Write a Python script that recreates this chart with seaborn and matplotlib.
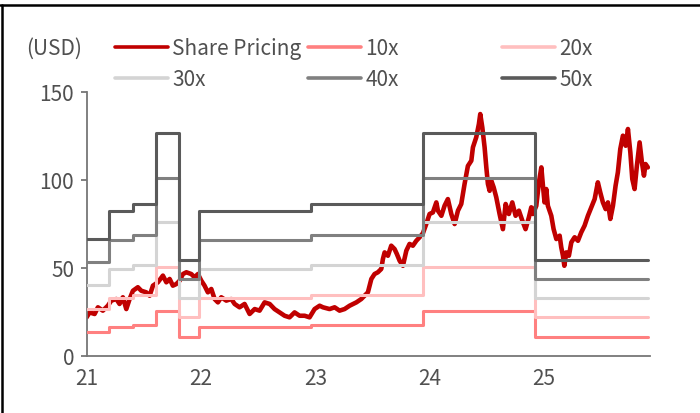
import matplotlib
matplotlib.use("Agg")
import matplotlib.pyplot as plt
from matplotlib.lines import Line2D
import pandas as pd
import seaborn as sns

# Share price (USD); time as years elapsed since the start of 2021
price_t = [
    0.000, 0.026, 0.070, 0.099, 0.142, 0.186, 0.216, 0.260, 0.288, 0.317,
    0.347, 0.376, 0.405, 0.448, 0.478, 0.522, 0.551, 0.580, 0.623, 0.667,
    0.697, 0.726, 0.754, 0.784, 0.813, 0.842, 0.872, 0.915, 0.944, 0.973,
    1.003, 1.031, 1.060, 1.090, 1.119, 1.148, 1.177, 1.221, 1.265, 1.294,
    1.337, 1.381, 1.425, 1.469, 1.512, 1.556, 1.600, 1.643, 1.687, 1.731,
    1.774, 1.818, 1.862, 1.906, 1.949, 1.993, 2.037, 2.066, 2.124, 2.168,
    2.211, 2.255, 2.299, 2.358, 2.401, 2.430, 2.459, 2.474, 2.489, 2.517,
    2.546, 2.576, 2.590, 2.605, 2.634, 2.663, 2.692, 2.712, 2.736, 2.765,
    2.795, 2.823, 2.852, 2.882, 2.911, 2.940, 2.969, 2.998, 3.027, 3.057,
    3.071, 3.101, 3.129, 3.158, 3.188, 3.217, 3.246, 3.275, 3.304, 3.333,
    3.363, 3.377, 3.406, 3.429, 3.441, 3.459, 3.479, 3.494, 3.508, 3.523,
    3.538, 3.558, 3.581, 3.610, 3.639, 3.663, 3.691, 3.721, 3.750, 3.779,
    3.809, 3.837, 3.866, 3.887, 3.901, 3.931, 3.954, 3.975, 3.989, 4.003,
    4.018, 4.032, 4.062, 4.082, 4.106, 4.135, 4.149, 4.164, 4.176, 4.193,
    4.216, 4.237, 4.266, 4.295, 4.324, 4.353, 4.382, 4.412, 4.441, 4.469,
    4.490, 4.513, 4.537, 4.557, 4.578, 4.601, 4.624, 4.644, 4.665, 4.688,
    4.712, 4.732, 4.753, 4.770, 4.790, 4.810, 4.834, 4.854, 4.872, 4.886,
    4.906,
]
price_usd = [
    21.8, 24.6, 23.7, 27.5, 25.6, 28.4, 31.3, 32.2, 29.4, 33.2,
    26.5, 32.2, 36.9, 38.9, 36.9, 36.0, 34.1, 39.8, 41.7, 45.5,
    41.7, 43.6, 39.8, 40.7, 42.6, 46.4, 47.4, 46.4, 44.5, 46.4,
    42.6, 39.8, 36.0, 37.9, 32.2, 30.3, 33.2, 31.3, 32.2, 29.4,
    27.5, 29.4, 23.7, 26.5, 25.6, 30.3, 29.4, 26.5, 24.6, 22.7,
    21.8, 24.6, 22.7, 22.7, 21.8, 26.5, 28.4, 27.5, 26.5, 27.5,
    25.6, 26.5, 28.4, 30.3, 32.2, 34.1, 36.0, 39.8, 43.6, 46.4,
    47.4, 49.3, 54.9, 58.7, 56.8, 62.5, 60.6, 57.8, 54.0, 51.1,
    59.7, 63.5, 62.5, 65.3, 67.3, 69.6, 74.8, 80.5, 81.4, 87.1,
    82.4, 79.5, 85.2, 89.0, 80.5, 74.8, 82.4, 86.2, 97.6, 107.8,
    110.8, 118.4, 124.1, 131.6, 137.3, 129.7, 118.4, 107.0, 97.6, 93.7,
    99.4, 95.7, 90.0, 80.5, 71.9, 86.2, 80.5, 87.1, 79.5, 82.4,
    76.7, 71.9, 78.6, 84.3, 80.5, 85.2, 98.5, 107.0, 96.6, 87.1,
    94.7, 85.2, 79.5, 72.0, 66.3, 68.2, 61.6, 56.8, 51.1, 58.7,
    56.8, 64.4, 67.3, 65.3, 70.1, 73.9, 79.5, 84.3, 89.0, 98.5,
    92.8, 87.1, 83.3, 87.1, 77.7, 85.2, 96.6, 104.2, 117.4, 125.0,
    119.3, 128.8, 115.5, 100.4, 94.7, 107.8, 121.2, 109.9, 102.3, 108.9,
    107.0,
]

# EPS (USD) used for the PER bands, with the start of each period
eps_start = [0.00, 0.20, 0.405, 0.61, 0.81, 0.98, 1.96, 2.94, 3.92]
eps_value = [1.33, 1.65, 1.72, 2.53, 1.09, 1.65, 1.72, 2.53, 1.09]
eps_end = 4.906

multiples = [10, 20, 30, 40, 50]
band_labels = ["10x", "20x", "30x", "40x", "50x"]
band_colors = ["#FF8080", "#FFBFBF", "#D4D4D4", "#808080", "#5A5A5A"]
price_label = "Share Pricing"
price_color = "#C00000"

base_year = 2021
year_ticks = [2021, 2022, 2023, 2024, 2025]
year_labels = ["21", "22", "23", "24", "25"]
value_ticks = [0, 50, 100, 150]

sns.set_theme(style="white")
plt.rcParams["font.family"] = ["Noto Sans CJK KR", "DejaVu Sans"]
text_color = "#505050"
axis_color = "#767676"

price_df = pd.DataFrame({
    "year": [base_year + t for t in price_t],
    "price": price_usd,
})

band_rows = []
for m, lab in zip(multiples, band_labels):
    xs = list(eps_start) + [eps_end]
    ys = [e * m for e in eps_value] + [eps_value[-1] * m]
    for x, y in zip(xs, ys):
        band_rows.append({"year": base_year + x, "value": y, "band": lab})
band_df = pd.DataFrame(band_rows)

fig = plt.figure(figsize=(7.0, 4.14), dpi=100)
ax = fig.add_axes([86.6 / 700, 1 - 356.7 / 414, (650 - 86.6) / 700, (356.7 - 92.7) / 414])

sns.lineplot(data=price_df, x="year", y="price", ax=ax, color=price_color,
             linewidth=3.3, legend=False, zorder=2)
sns.lineplot(data=band_df, x="year", y="value", hue="band",
             hue_order=band_labels, palette=band_colors, ax=ax,
             drawstyle="steps-post", linewidth=2.2, legend=False, zorder=3,
             estimator=None, sort=False)

ax.set_xlim(base_year, base_year + (650 - 86.6) / 114.4)
ax.set_ylim(0, 150)
ax.set_xticks(year_ticks)
ax.set_xticklabels(year_labels)
ax.set_yticks(value_ticks)
ax.set_xlabel("")
ax.set_ylabel("")

for side in ["top", "right"]:
    ax.spines[side].set_visible(False)
for side in ["left", "bottom"]:
    ax.spines[side].set_color(axis_color)
    ax.spines[side].set_linewidth(1.3)

ax.tick_params(axis="y", which="major", left=True, length=4, width=1.3,
               color=axis_color, labelcolor=text_color, labelsize=15, pad=5)
ax.tick_params(axis="x", which="major", bottom=False, length=0,
               labelcolor=text_color, labelsize=15, pad=8)

# legend: three columns of two entries each
col_entries = [
    [(price_label, price_color), (band_labels[2], band_colors[2])],
    [(band_labels[0], band_colors[0]), (band_labels[3], band_colors[3])],
    [(band_labels[1], band_colors[1]), (band_labels[4], band_colors[4])],
]
col_x = [115 / 700, 308 / 700, 502 / 700]
for entries, x0 in zip(col_entries, col_x):
    handles = [Line2D([], [], color=c, linewidth=2.6) for _, c in entries]
    labels = [lab for lab, _ in entries]
    leg = fig.legend(handles, labels, loc="center left",
                     bbox_to_anchor=(x0, 1 - 64.5 / 414), frameon=False,
                     fontsize=15, handlelength=2.55, handletextpad=0.2,
                     labelspacing=0.45, borderpad=0, borderaxespad=0)
    for t in leg.get_texts():
        t.set_color(text_color)

fig.text(26 / 700, 1 - 49 / 414, "(USD)", ha="left", va="center",
         fontsize=15, color=text_color)

# frame lines along the top and left edges
fig.add_artist(Line2D([0, 1], [1 - 6 / 414, 1 - 6 / 414], color="black",
                      linewidth=1.8, transform=fig.transFigure))
fig.add_artist(Line2D([1.5 / 700, 1.5 / 700], [0, 1 - 6 / 414], color="black",
                      linewidth=1.8, transform=fig.transFigure))

fig.savefig("out.png", dpi=100)
